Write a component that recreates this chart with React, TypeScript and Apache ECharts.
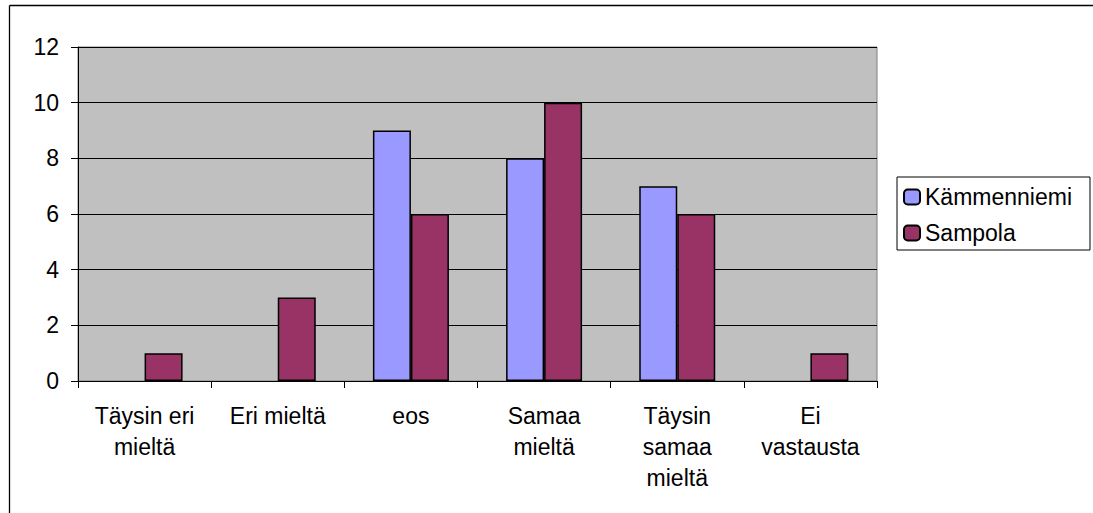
import React, { useEffect, useRef } from "react";
import * as echarts from "echarts";

const categories = [
  "Täysin eri\nmieltä",
  "Eri mieltä",
  "eos",
  "Samaa\nmieltä",
  "Täysin\nsamaa\nmieltä",
  "Ei\nvastausta",
];
const kammenniemi = [0, 0, 9, 8, 7, 0];
const sampola = [1, 3, 6, 10, 6, 1];
const seriesNames = ["Kämmenniemi", "Sampola"];
const yMin = 0;
const yMax = 12;
const yInterval = 2;

const FONT = "'Liberation Sans', Arial, sans-serif";

// zero values are not drawn as bars in the original
const shown = (arr: number[]) => arr.map((v) => (v === 0 ? "-" : v));

export default function App() {
  const ref = useRef<HTMLDivElement>(null);
  useEffect(() => {
    document.body.style.margin = "0";
    document.body.style.overflow = "hidden";
    document.documentElement.style.overflow = "hidden";
    const chart = echarts.init(ref.current!, null, { renderer: "svg" });
    chart.setOption({
      animation: false,
      backgroundColor: "#ffffff",
      textStyle: { fontFamily: FONT, color: "#000" },
      graphic: [
        {
          type: "line",
          shape: { x1: 9.5, y1: 5.5, x2: 1093, y2: 5.5 },
          style: { stroke: "#000", lineWidth: 1.3 },
          silent: true,
        },
        {
          type: "line",
          shape: { x1: 9.5, y1: 5.5, x2: 9.5, y2: 513 },
          style: { stroke: "#000", lineWidth: 1.3 },
          silent: true,
        },
      ],
      grid: {
        left: 78,
        top: 47,
        right: 216,
        bottom: 132,
        show: true,
        backgroundColor: "#C0C0C0",
        borderColor: "#808080",
        borderWidth: 1,
      },
      legend: {
        orient: "vertical",
        left: 897,
        top: 177,
        padding: [7, 18, 4, 6],
        borderColor: "#000",
        borderWidth: 1,
        backgroundColor: "#fff",
        itemWidth: 16,
        itemHeight: 15,
        itemGap: 10,
        textStyle: { fontFamily: FONT, fontSize: 23, color: "#000", lineHeight: 26 },
        data: seriesNames,
      },
      xAxis: {
        type: "category",
        data: categories,
        axisLine: { lineStyle: { color: "#000", width: 1 } },
        axisTick: { show: true, length: 7, lineStyle: { color: "#000" } },
        axisLabel: {
          fontFamily: FONT,
          fontSize: 23,
          color: "#000",
          lineHeight: 31,
          margin: 19,
          interval: 0,
        },
      },
      yAxis: {
        type: "value",
        min: yMin,
        max: yMax,
        interval: yInterval,
        axisLine: { show: true, lineStyle: { color: "#000", width: 1 } },
        axisTick: { show: true, length: 7, lineStyle: { color: "#000" } },
        splitLine: { show: true, lineStyle: { color: "#000", width: 1 } },
        axisLabel: { fontFamily: FONT, fontSize: 23, color: "#000", margin: 19 },
      },
      series: [
        {
          name: seriesNames[0],
          type: "bar",
          data: shown(kammenniemi),
          barWidth: 38,
          barGap: "0%",
          itemStyle: { color: "#9999FF", borderColor: "#000", borderWidth: 1.5 },
        },
        {
          name: seriesNames[1],
          type: "bar",
          data: shown(sampola),
          barWidth: 38,
          barGap: "0%",
          itemStyle: { color: "#993366", borderColor: "#000", borderWidth: 1.5 },
        },
      ],
    });
    return () => chart.dispose();
  }, []);
  return (
    <div
      ref={ref}
      style={{ position: "absolute", left: 0, top: 0, width: 1093, height: 513, overflow: "hidden" }}
    />
  );
}
